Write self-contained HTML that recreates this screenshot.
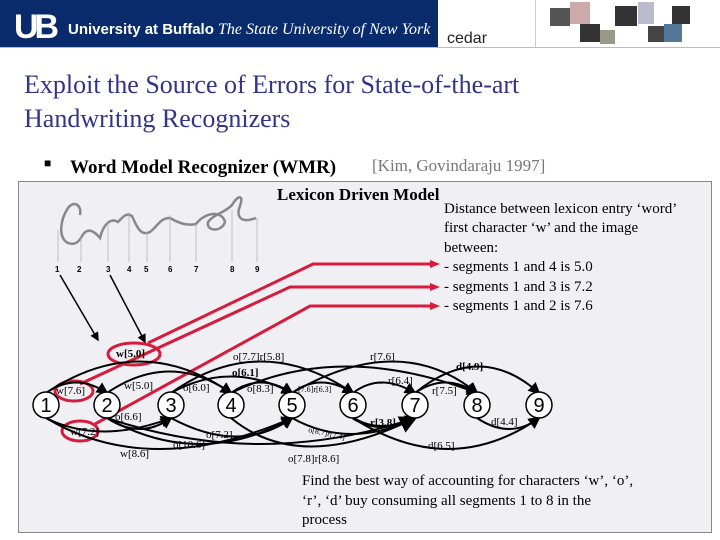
<!DOCTYPE html>
<html><head><meta charset="utf-8"><style>
body{margin:0;width:720px;height:540px;background:#fff;position:relative;overflow:hidden;font-family:"Liberation Serif",serif}
.a{position:absolute;white-space:nowrap}
</style></head><body>
<div class="a" style="left:0;top:0;width:438px;height:47px;background:#0a2b6b"></div>
<div class="a" style="left:14px;top:8px;color:#fff;font:bold 34px 'Liberation Sans',sans-serif;letter-spacing:-4px">UB</div>
<div class="a" style="left:68px;top:21px;color:#fff;font:bold 15px 'Liberation Sans',sans-serif">University at Buffalo <i style="font:italic 16px 'Liberation Serif',serif">The State University of New York</i></div>
<div class="a" style="left:447px;top:30px;font:16px 'Liberation Sans',sans-serif;color:#222">cedar</div>
<div class="a" style="left:535px;top:0;width:1px;height:47px;background:#ccc"></div>
<div class="a" style="left:0;top:47px;width:720px;height:1px;background:#bbb"></div>
<svg class="a" style="left:540px;top:0" width="175" height="47">
<rect x="10" y="8" width="20" height="18" fill="#555"/><rect x="30" y="2" width="20" height="22" fill="#caa"/>
<rect x="40" y="24" width="20" height="18" fill="#333"/><rect x="60" y="30" width="15" height="14" fill="#998"/>
<rect x="75" y="6" width="22" height="20" fill="#333"/><rect x="98" y="2" width="16" height="22" fill="#bbc"/>
<rect x="108" y="26" width="18" height="16" fill="#444"/><rect x="132" y="6" width="18" height="18" fill="#333"/><rect x="124" y="24" width="18" height="18" fill="#579"/>
</svg>
<div class="a" style="left:24px;top:68px;font-size:26px;color:#333388;line-height:34px">Exploit the Source of Errors for State-of-the-art<br>Handwriting Recognizers</div>
<div class="a" style="left:44px;top:156px;font-size:12px">■</div>
<div class="a" style="left:70px;top:157px;font:bold 19px 'Liberation Serif',serif">Word Model Recognizer (WMR)</div>
<div class="a" style="left:372px;top:156px;font-size:17px;color:#777">[Kim, Govindaraju 1997]</div>
<div class="a" style="left:18px;top:181px;width:692px;height:350px;background:#f0f0f4;border:1px solid #888"></div>
<div class="a" style="left:277px;top:185px;font:bold 17px 'Liberation Serif',serif">Lexicon Driven Model</div>
<div class="a" style="left:444px;top:200px;font-size:15px;line-height:19.4px">Distance between lexicon entry ‘word’<br>first character ‘w’ and the image<br>between:<br>- segments 1 and 4 is 5.0<br>- segments 1 and 3 is 7.2<br>- segments 1 and 2 is 7.6</div>
<div class="a" style="left:302px;top:472px;font-size:15px;line-height:19.5px">Find the best way of accounting for characters ‘w’, ‘o’,<br>‘r’, ‘d’ buy consuming all segments 1 to 8 in the<br>process</div>
<svg class="a" style="left:0;top:0" width="720" height="540" font-family="Liberation Serif" font-size="11">
<defs><marker id="m" markerWidth="6" markerHeight="6" refX="5" refY="3" orient="auto"><path d="M0,0L6,3L0,6z" fill="#000"/></marker></defs>
<g fill="none" stroke="#888" stroke-width="2.5">
<path d="M80,215 C82,205 74,200 68,208 C60,220 58,238 68,243 C76,246 80,240 82,236 C88,226 95,232 100,238 C104,222 112,218 118,222 C122,218 126,212 132,216 C138,230 142,236 150,232 C158,226 160,218 170,218 C180,224 188,226 196,224 C205,212 222,210 225,222 C222,232 206,232 208,222 C214,214 226,212 232,205 C238,195 244,194 240,206 C236,216 240,224 256,218"/>
</g>
<g fill="none" stroke="#aaa" stroke-width="0.7"><path d="M58,230V262M81,236V262M108,222V262M129,212V262M147,232V262M170,215V262M196,224V262M232,210V262M257,218V262"/></g>
<g font-family="Liberation Sans" font-weight="bold" font-size="8"><text x="55" y="272">1</text><text x="77" y="272">2</text><text x="106" y="272">3</text><text x="127" y="272">4</text><text x="144" y="272">5</text><text x="168" y="272">6</text><text x="194" y="272">7</text><text x="230" y="272">8</text><text x="255" y="272">9</text></g>
<g stroke="#000" stroke-width="1.5" fill="none"><path d="M60,275 L98,340" marker-end="url(#m)"/><path d="M110,275 L145,342" marker-end="url(#m)"/></g>
<g stroke="#d81a3c" stroke-width="3" fill="none">
<path d="M148,343 L313,264 H430"/><path d="M80,384 L290,287 H430"/><path d="M95,424 L310,306 H430"/>
<ellipse cx="134" cy="354" rx="26" ry="11"/><ellipse cx="74" cy="391" rx="19" ry="10"/><ellipse cx="80" cy="431" rx="18" ry="10"/>
</g>
<g fill="#d81a3c"><path d="M430,260L440,264L430,268z"/><path d="M430,283L440,287L430,291z"/><path d="M430,302L440,306L430,310z"/></g>
<g stroke="#000" stroke-width="2" fill="none">
<path d="M46,393 Q140,330 231,393" marker-end="url(#m)"/>
<path d="M46,393 Q76,372 107,393" marker-end="url(#m)"/>
<path d="M107,393 Q170,350 231,393" marker-end="url(#m)"/>
<path d="M171,393 Q260,330 353,393" marker-end="url(#m)"/>
<path d="M171,393 Q230,360 292,393" marker-end="url(#m)"/>
<path d="M231,393 Q260,372 292,393" marker-end="url(#m)"/>
<path d="M231,393 Q340,340 477,393" marker-end="url(#m)"/>
<path d="M292,393 Q320,372 353,393" marker-end="url(#m)"/>
<path d="M292,393 Q400,330 477,393" marker-end="url(#m)"/>
<path d="M415,393 Q480,340 539,393" marker-end="url(#m)"/>
<path d="M415,393 Q445,372 477,393" marker-end="url(#m)"/>
<path d="M353,393 Q380,372 415,393" marker-end="url(#m)"/>
<path d="M46,418 Q100,445 171,418" marker-end="url(#m)"/>
<path d="M46,418 Q150,480 292,418" marker-end="url(#m)"/>
<path d="M107,418 Q200,470 292,418" marker-end="url(#m)"/>
<path d="M107,418 Q140,440 171,418" marker-end="url(#m)"/>
<path d="M171,418 Q240,455 292,418" marker-end="url(#m)"/>
<path d="M107,418 Q260,470 415,418" marker-end="url(#m)"/>
<path d="M231,418 Q300,475 415,418" marker-end="url(#m)"/>
<path d="M292,418 Q350,450 415,418" marker-end="url(#m)"/>
<path d="M353,418 Q380,435 415,418" marker-end="url(#m)" stroke-width="3"/>
<path d="M353,418 Q450,480 539,418" marker-end="url(#m)"/>
<path d="M477,418 Q510,440 539,418" marker-end="url(#m)"/>
</g>
<g fill="#fff" stroke="#000" stroke-width="1.5">
<circle cx="46" cy="405" r="13"/><circle cx="107" cy="405" r="13"/><circle cx="171" cy="405" r="13"/><circle cx="231" cy="405" r="13"/><circle cx="292" cy="405" r="13"/><circle cx="353" cy="405" r="13"/><circle cx="415" cy="405" r="13"/><circle cx="477" cy="405" r="13"/><circle cx="539" cy="405" r="13"/>
</g>
<g font-family="Liberation Sans" font-size="20" text-anchor="middle"><text x="46" y="412">1</text><text x="107" y="412">2</text><text x="171" y="412">3</text><text x="231" y="412">4</text><text x="292" y="412">5</text><text x="353" y="412">6</text><text x="415" y="412">7</text><text x="477" y="412">8</text><text x="539" y="412">9</text></g>
<text x="116" y="357" font-weight="bold">w[5.0]</text><text x="56" y="394">w[7.6]</text><text x="124" y="389">w[5.0]</text><text x="183" y="391">o[6.0]</text>
<text x="233" y="360">o[7.7]r[5.8]</text><text x="232" y="376" font-weight="bold">o[6.1]</text><text x="247" y="392">o[8.3]</text>
<text x="298" y="392" font-size="8">[7.6]r[6.3]</text><text x="370" y="360">r[7.6]</text><text x="388" y="384">r[6.4]</text>
<text x="456" y="370" font-weight="bold">d[4.9]</text><text x="432" y="394">r[7.5]</text><text x="491" y="425">d[4.4]</text>
<text x="115" y="420">o[6.6]</text><text x="70" y="435">w[7.2]</text><text x="120" y="457">w[8.6]</text><text x="173" y="448">o[10.6]</text>
<text x="206" y="438">o[7.2]</text><text x="308" y="432" font-size="8" transform="rotate(12 308 432)">o[8.7]r[7.4]</text>
<text x="370" y="426" font-weight="bold">r[3.8]</text><text x="428" y="449">d[6.5]</text><text x="288" y="462">o[7.8]r[8.6]</text>
</svg>
</body></html>
